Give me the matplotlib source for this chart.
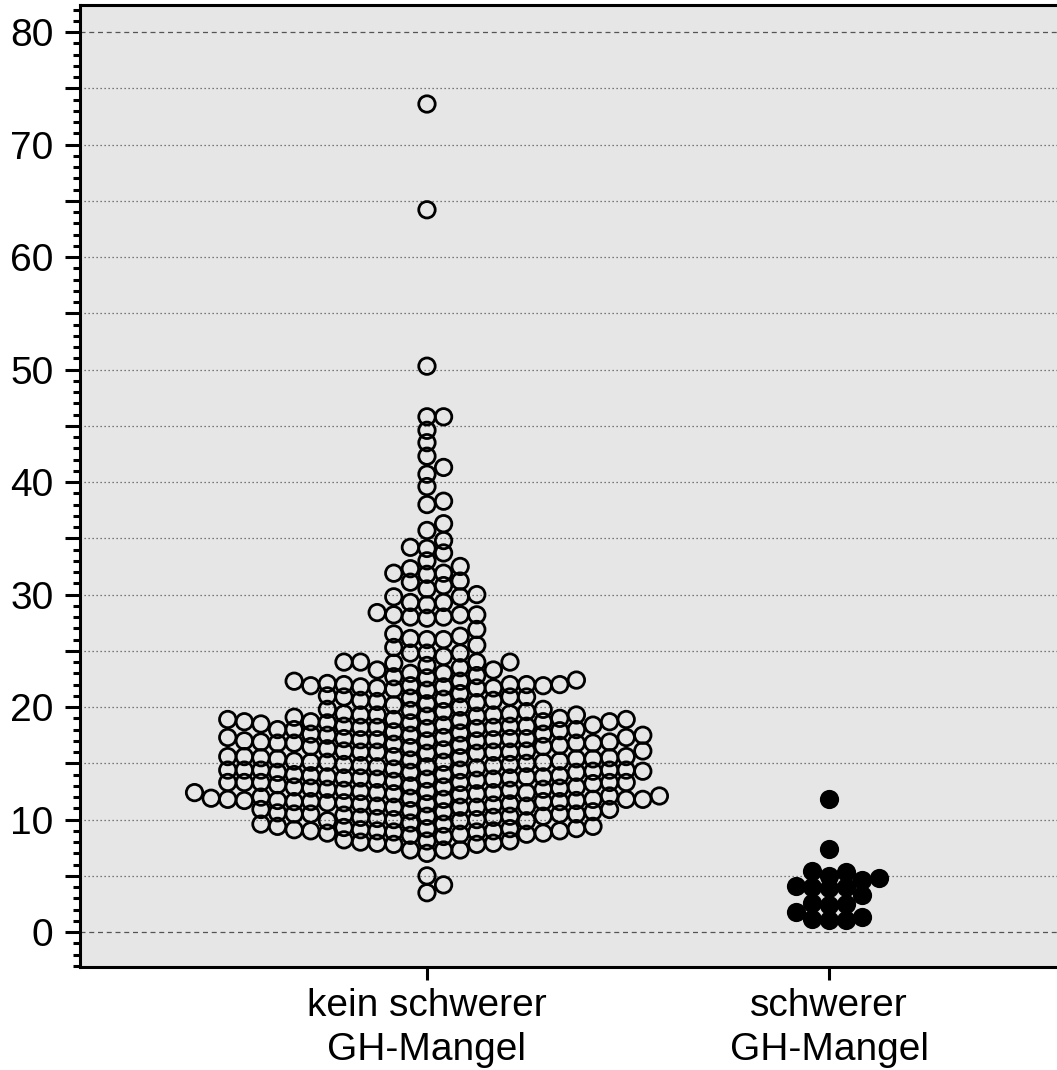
import numpy as np
import matplotlib
matplotlib.use("Agg")
import matplotlib.pyplot as plt
from matplotlib.ticker import MultipleLocator, FuncFormatter

# ── Daten ────────────────────────────────────────────────────────────────────
gruppen = ["kein schwerer\nGH-Mangel", "schwerer\nGH-Mangel"]

kein_mangel = [
    19.2, 17.2, 13.8, 11.8,
    19.3, 17.1, 14.7, 12.8, 11.9,
    18.0, 16.9, 14.4, 13.3, 12.3, 10.5,
    19.2, 17.7, 15.4, 14.2, 13.1, 12.1, 10.6, 9.2,
    18.8, 17.0, 15.6, 13.8, 12.8, 11.6, 9.9, 8.5,
    20.9, 18.7, 17.5, 16.5, 15.5, 14.6, 13.0, 11.6, 9.4,
    22.0, 18.9, 18.1, 16.8, 15.4, 13.9, 12.9, 11.7, 9.9, 8.1,
    22.0, 18.6, 17.6, 16.3, 15.1, 14.0, 12.6, 11.1, 9.9, 8.9,
    24.5, 22.4, 20.9, 19.6, 18.2, 17.1, 16.1, 15.2, 14.3, 13.3, 12.1, 11.1, 9.7, 7.9,
    23.9, 21.9, 20.5, 19.4, 18.3, 17.0, 15.9, 14.8, 13.6, 12.4, 11.5, 10.2, 9.0, 8.2,
    24.8, 23.3, 22.0, 20.9, 19.8, 18.7, 17.5, 16.6, 15.4, 14.2, 13.3, 12.4, 11.4,
    10.3, 9.1, 7.3,
    29.8, 28.2, 26.9, 25.5, 24.0, 22.8, 21.6, 20.3, 19.1, 17.9, 16.9, 15.9, 14.7,
    13.6, 12.5, 11.5, 10.3, 9.2, 7.8,
    33.7, 32.5, 31.1, 29.3, 28.0, 26.3, 24.0, 22.7, 21.7, 20.6, 19.4, 18.5, 17.3,
    16.2, 15.1, 14.0, 12.7, 11.7, 10.5, 9.3, 7.9,
    45.8, 38.3, 36.3, 34.8, 31.8, 29.8, 28.2, 26.0, 24.0, 23.0, 21.9, 20.8, 19.8,
    18.7, 17.6, 16.5, 15.5, 14.4, 13.3, 12.2, 11.1, 10.1, 9.0, 7.3,
    73.6, 64.2, 50.3, 45.8, 44.6, 43.5, 42.3, 40.7, 39.6, 38.0, 35.7, 34.2, 32.3,
    30.8, 29.3, 28.0, 26.1, 24.8, 23.5, 22.3, 21.2, 20.0, 18.9, 17.8, 16.7, 15.6,
    14.5, 13.4, 12.3, 11.2, 10.0, 8.8, 7.0, 5.0, 3.5,
    41.3, 34.1, 33.0, 31.9, 30.0, 28.2, 26.0, 24.0, 22.6, 21.5, 20.4, 19.3, 18.2,
    17.1, 16.0, 14.9, 13.8, 12.7, 11.6, 10.5, 9.4, 8.0, 4.2,
    31.2, 29.1, 27.9, 26.5, 24.8, 23.0, 21.8, 20.7, 19.6, 18.4, 17.2, 16.1, 14.9,
    13.7, 12.6, 11.4, 10.2, 9.0, 7.8,
    31.9, 30.5, 28.4, 25.3, 23.7, 22.1, 20.6, 19.3, 18.1, 16.8, 15.6, 14.4, 13.2,
    12.0, 10.8, 9.6, 8.1,
    22.3, 21.0, 19.7, 18.4, 17.2, 16.0, 14.8, 13.6, 12.4, 11.2, 10.0, 8.7,
    23.3, 22.0, 20.2, 18.6, 17.3, 16.6, 15.1, 14.4, 12.9, 11.6, 10.7, 8.8, 7.3,
    21.8, 19.3, 18.2, 16.8, 15.3, 14.3, 12.4, 11.3, 10.4,
    21.7, 19.0, 17.5, 16.0, 15.2, 13.5, 12.5, 10.5, 9.0,
    21.7, 18.9, 17.3, 16.0, 14.4, 12.9, 11.8, 9.6,
    21.9, 18.7, 17.0, 15.0, 13.3, 11.7, 10.3, 9.1,
    18.3, 16.4, 13.9, 11.9, 10.9, 8.6,
    18.3, 16.8, 15.6, 13.7, 11.8, 10.9, 8.7,
    18.0, 16.1, 14.2, 11.8, 8.9,
    18.0, 15.5, 13.7, 11.8, 10.7, 9.2,
    15.1, 13.3, 11.4,
    14.4,
]

schwerer_mangel = [
    11.8, 7.4, 5.4, 5.3, 5.0, 4.8, 4.6, 4.1, 4.0, 4.0,
    3.9, 3.3, 2.6, 2.5, 2.4, 1.8, 1.2, 1.1, 1.1, 1.3,
]


def spalten_swarm(werte, abstand=1.0):
    """Punkte in feste Spalten legen: 0, +1, -1, +2, -2 ...
    Ein Punkt kommt in die erste Spalte, in der kein anderer Punkt
    näher als `abstand` liegt."""
    werte = np.asarray(werte, dtype=float)
    spalten = {}
    versatz = np.zeros(len(werte))
    for i in np.argsort(werte):
        v = werte[i]
        k = 0
        while True:
            kandidaten = [0] if k == 0 else [k, -k]
            gefunden = None
            for c in kandidaten:
                belegt = spalten.get(c, [])
                if all(abs(v - w) >= abstand for w in belegt):
                    gefunden = c
                    break
            if gefunden is not None:
                spalten.setdefault(gefunden, []).append(v)
                versatz[i] = gefunden
                break
            k += 1
    return versatz


# ── Grafik ───────────────────────────────────────────────────────────────────
plt.rcParams["font.family"] = ["Liberation Sans", "DejaVu Sans"]

fig = plt.figure(figsize=(10.57, 10.70), dpi=100)
ax = fig.add_axes([80 / 1057, 103 / 1070, 977 / 1057, 962 / 1070])
ax.set_facecolor("#e6e6e6")

spaltenbreite = 16.6 / 402  # Abstand der Spalten in x-Einheiten
msize = 140
abstand = 1.08

y1 = np.array(kein_mangel)
x1 = 0 + spalten_swarm(y1, abstand) * spaltenbreite
ax.scatter(x1, y1, s=msize, facecolors="none", edgecolors="black",
           linewidths=2.0, zorder=3)

y2 = np.array(schwerer_mangel)
x2 = 1 + spalten_swarm(y2, abstand) * spaltenbreite
ax.scatter(x2, y2, s=msize, facecolors="black", edgecolors="black",
           linewidths=2.0, zorder=3)

# Gitterlinien: gepunktet alle 5, gestrichelt bei 0 und 80
for y in range(5, 80, 5):
    ax.axhline(y, color="#555555", lw=0.9, ls=(0, (1, 2.2)), zorder=1)
for y in (0, 80):
    ax.axhline(y, color="#555555", lw=0.9, ls=(0, (4, 3)), zorder=1)

ax.set_xlim(-0.863, 1.567)
ax.set_ylim(-3.1, 82.4)

ax.yaxis.set_major_locator(MultipleLocator(5))
ax.yaxis.set_minor_locator(MultipleLocator(1))
ax.yaxis.set_major_formatter(FuncFormatter(lambda v, p: f"{v:.0f}" if v % 10 == 0 else ""))
ax.tick_params(axis="y", which="major", length=11, width=2.2, labelsize=28, pad=8)
ax.tick_params(axis="y", which="minor", length=5, width=2.2)

ax.set_xticks([0, 1])
ax.set_xticklabels(gruppen, fontsize=28, linespacing=1.3)
ax.tick_params(axis="x", which="major", length=9, width=2.2, pad=6)

for s in ("left", "bottom", "top"):
    ax.spines[s].set_linewidth(2.2)
ax.spines["right"].set_visible(False)

fig.savefig("out.png", dpi=100, facecolor="white")
